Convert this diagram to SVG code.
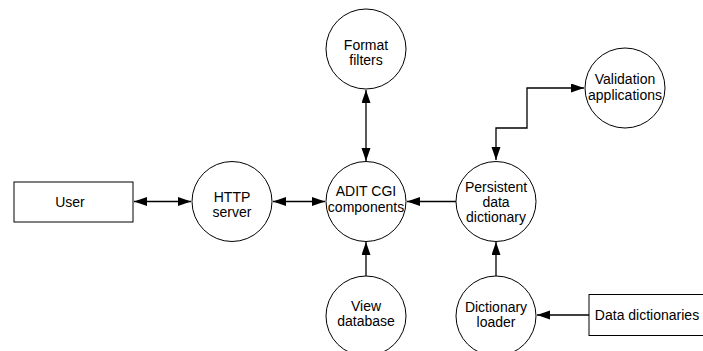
<svg xmlns="http://www.w3.org/2000/svg" width="703" height="351" viewBox="0 0 703 351">
<style>
.n{fill:#fff;stroke:#000;stroke-width:1}
.t{font-family:"Liberation Sans",Arial,Helvetica,sans-serif;font-size:14px;fill:#000;text-anchor:middle}
.c{fill:none;stroke:#000;stroke-width:1.3}
</style>
<defs>
<marker id="ah" markerUnits="userSpaceOnUse" markerWidth="14" markerHeight="10" refX="13" refY="4.5" orient="auto-start-reverse" viewBox="0 0 14 10">
<path d="M0,0 L13,4.5 L0,9 z" fill="#000"/>
</marker>
</defs>
<rect width="703" height="351" fill="#fff"/>
<g id="connectors">
<line class="c" x1="134" y1="201.5" x2="191" y2="201.5" marker-start="url(#ah)" marker-end="url(#ah)"/>
<line class="c" x1="273" y1="201.5" x2="325" y2="201.5" marker-start="url(#ah)" marker-end="url(#ah)"/>
<line class="c" x1="366" y1="90" x2="366" y2="161" marker-start="url(#ah)" marker-end="url(#ah)"/>
<line class="c" x1="456" y1="201.5" x2="407" y2="201.5" marker-end="url(#ah)"/>
<line class="c" x1="366" y1="276" x2="366" y2="242" marker-end="url(#ah)"/>
<line class="c" x1="496" y1="276" x2="496" y2="242" marker-end="url(#ah)"/>
<line class="c" x1="589" y1="315" x2="537" y2="315" marker-end="url(#ah)"/>
<polyline class="c" points="584,88 527,88 527,128 496,128 496,160" marker-start="url(#ah)" marker-end="url(#ah)"/>
</g>
<g id="user">
<rect class="n" x="14" y="182" width="119" height="40"/>
<text class="t" x="70" y="207">User</text>
</g>
<g id="http">
<circle class="n" cx="232" cy="201.5" r="40"/>
<text class="t" x="232" y="202">HTTP</text>
<text class="t" x="232" y="217">server</text>
</g>
<g id="adit">
<circle class="n" cx="366" cy="201.5" r="40"/>
<text class="t" x="366" y="196">ADIT CGI</text>
<text class="t" x="366" y="211.5">components</text>
</g>
<g id="format">
<circle class="n" cx="366" cy="49" r="40"/>
<text class="t" x="366" y="50">Format</text>
<text class="t" x="366" y="65">filters</text>
</g>
<g id="validation">
<circle class="n" cx="625" cy="88" r="40"/>
<text class="t" x="625" y="84">Validation</text>
<text class="t" x="625" y="99.5">applications</text>
</g>
<g id="persistent">
<circle class="n" cx="496" cy="201.5" r="40"/>
<text class="t" x="496" y="191.5">Persistent</text>
<text class="t" x="496" y="206.5">data</text>
<text class="t" x="496" y="221.5">dictionary</text>
</g>
<g id="view">
<circle class="n" cx="366" cy="316" r="40"/>
<text class="t" x="366" y="311">View</text>
<text class="t" x="366" y="326">database</text>
</g>
<g id="loader">
<circle class="n" cx="496" cy="316" r="40"/>
<text class="t" x="496" y="311.5">Dictionary</text>
<text class="t" x="496" y="326.5">loader</text>
</g>
<g id="datadict">
<rect class="n" x="589" y="294.5" width="130" height="41"/>
<text class="t" x="647" y="320">Data dictionaries</text>
</g>
</svg>
